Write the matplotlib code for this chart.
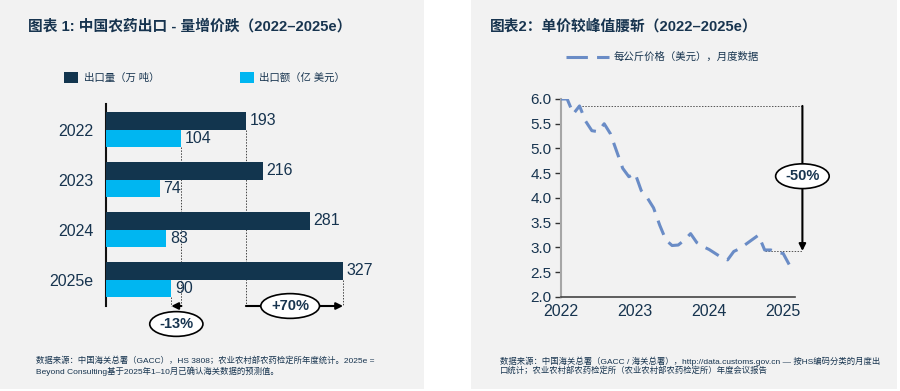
import matplotlib
matplotlib.use('Agg')
import matplotlib.pyplot as plt
from matplotlib.patches import Rectangle
from matplotlib.lines import Line2D
import numpy as np

plt.rcParams['font.family'] = ['Liberation Sans', 'Noto Sans CJK SC', 'DejaVu Sans']

# --- data ---
years = ['2022', '2023', '2024', '2025e']
volume = [193, 216, 281, 327]      # 万吨
value = [104, 74, 83, 90]          # 亿美元

price_years = [2022, 2023, 2024, 2025]
# monthly unit price (USD/kg), Jan 2022 - Feb 2025
price = [6.00, 6.00, 5.70, 5.86, 5.55, 5.36, 5.34, 5.50, 5.30, 4.95, 4.60, 4.43,
         4.50, 4.15, 4.00, 3.80, 3.45, 3.15, 3.04, 3.05, 3.15, 3.28, 3.10, 3.02,
         2.96, 2.88, 2.80, 2.75, 2.92, 2.98, 3.07, 3.16, 3.25, 2.95, 2.95, 2.90,
         2.88, 2.65]
price_x = [2022 + i / 12 for i in range(len(price))]

NAVY = '#17344f'
DARK = '#12354e'
LIGHT = '#00b6f1'
LINEC = '#6a8cc6'
BG = '#f2f2f2'
W, H = 900, 391

fig = plt.figure(figsize=(9, 3.91), dpi=100)
fig.patch.set_facecolor('white')

def fx(px):
    return px / W

def fy(py):
    return 1 - py / H

# panels
fig.patches.append(Rectangle((0, fy(389)), fx(424), 389 / H, transform=fig.transFigure,
                             fc=BG, ec='none', zorder=-10))
fig.patches.append(Rectangle((fx(471), fy(389)), fx(426), 389 / H, transform=fig.transFigure,
                             fc=BG, ec='none', zorder=-10))

# ---------------- left: bar chart ----------------
ax1 = fig.add_axes([fx(106), fy(306), fx(290), 202 / H])
ax1.set_facecolor('none')
pos = np.arange(len(years))
bh = 0.35
ax1.barh(pos - bh / 2, volume, height=bh, color=DARK, zorder=3)
ax1.barh(pos + bh / 2, value, height=bh, color=LIGHT, zorder=3)
for p, v in zip(pos, volume):
    ax1.text(v + 5, p - bh / 2, str(v), va='center', ha='left', fontsize=11.5, color=NAVY)
for p, v in zip(pos, value):
    ax1.text(v + 5, p + bh / 2, str(v), va='center', ha='left', fontsize=11.5, color=NAVY)
ax1.set_xlim(0, 400)
ax1.set_ylim(3.53, -0.51)
ax1.set_yticks(pos)
ax1.set_yticklabels(years, fontsize=11.5, color=NAVY)
ax1.tick_params(axis='y', length=0, pad=9)
ax1.set_xticks([])
for s in ['top', 'right', 'bottom']:
    ax1.spines[s].set_visible(False)
ax1.spines['left'].set_color('#111111')
ax1.spines['left'].set_linewidth(1.5)

ya = 3.53
dot = dict(color='#444444', lw=0.7, ls=(0, (1.5, 1.5)), clip_on=False, zorder=2)
ax1.plot([volume[0], volume[0]], [0, ya], **dot)
ax1.plot([value[0], value[0]], [bh, ya], **dot)
ax1.plot([volume[-1], volume[-1]], [3, ya], **dot)
ax1.plot([value[-1], value[-1]], [3 + bh, ya], **dot)
ax1.annotate('', xy=(volume[-1], ya), xytext=(volume[0], ya), annotation_clip=False,
             arrowprops=dict(arrowstyle='-|>', color='black', lw=1.5, shrinkA=0, shrinkB=0))
ax1.annotate('', xy=(value[-1], ya), xytext=(value[0], ya), annotation_clip=False,
             arrowprops=dict(arrowstyle='-|>', color='black', lw=1.5, shrinkA=0, shrinkB=0))
ell = dict(boxstyle='ellipse,pad=0.12', fc='white', ec='black', lw=1.2)
ax1.text(254, ya, '+70%', ha='center', va='center', fontsize=10.5, fontweight='bold',
         color=NAVY, bbox=ell, clip_on=False, zorder=5)
ax1.text(97, ya + 0.36, '-13%', ha='center', va='center', fontsize=10.5, fontweight='bold',
         color=NAVY, bbox=ell, clip_on=False, zorder=5)

# left title / legend / source
fig.text(fx(28), fy(26), '图表 1: 中国农药出口 - 量增价跌（2022–2025e）', fontsize=10.6,
         fontweight='bold', color=NAVY, va='center')
fig.patches.append(Rectangle((fx(64), fy(83)), fx(14), 11 / H, transform=fig.transFigure,
                             fc=DARK, ec='none'))
fig.patches.append(Rectangle((fx(240), fy(83)), fx(14), 11 / H, transform=fig.transFigure,
                             fc=LIGHT, ec='none'))
fig.text(fx(84), fy(78), '出口量（万 吨）', fontsize=7.5, color=NAVY, va='center')
fig.text(fx(259), fy(78), '出口额（亿 美元）', fontsize=7.5, color=NAVY, va='center')
fig.text(fx(36), fy(361), '数据来源：中国海关总署（GACC），HS 3808；农业农村部农药检定所年度统计。2025e =',
         fontsize=6, color=NAVY, va='center')
fig.text(fx(36), fy(371), 'Beyond Consulting基于2025年1–10月已确认海关数据的预测值。',
         fontsize=6, color=NAVY, va='center')

# ---------------- right: line chart ----------------
ax2 = fig.add_axes([fx(561), fy(297), fx(234), 198 / H])
ax2.set_facecolor('none')
ax2.plot(price_x, price, color=LINEC, lw=2.2, dashes=(5, 3), zorder=3)
ax2.set_xlim(2022, 2025.16)
ax2.set_ylim(2.0, 6.0)
ax2.set_yticks(np.arange(2.0, 6.01, 0.5))
ax2.set_yticklabels([f'{v:.1f}' for v in np.arange(2.0, 6.01, 0.5)], fontsize=11, color=NAVY)
ax2.set_xticks(price_years)
ax2.set_xticklabels([str(y) for y in price_years], fontsize=11.5, color=NAVY)
ax2.tick_params(axis='y', length=4, width=1, color='#333333', pad=3)
ax2.tick_params(axis='x', length=0, pad=5)
for s in ['top', 'right']:
    ax2.spines[s].set_visible(False)
ax2.spines['left'].set_color('#a6a6a6')
ax2.spines['left'].set_linewidth(1.5)
ax2.spines['bottom'].set_color('#444444')
ax2.spines['bottom'].set_linewidth(1.2)

xa = 2025.26
peak, low = 5.86, 2.93
dot2 = dict(color='#555555', lw=0.7, ls=(0, (1.5, 1.5)), clip_on=False, zorder=2)
ax2.plot([2022.24, xa], [peak, peak], **dot2)
ax2.plot([2024.76, xa], [low, low], **dot2)
ax2.annotate('', xy=(xa, low), xytext=(xa, peak), annotation_clip=False,
             arrowprops=dict(arrowstyle='-|>', color='black', lw=1.5, shrinkA=0, shrinkB=0))
ax2.text(xa, 4.44, '-50%', ha='center', va='center', fontsize=10.5, fontweight='bold',
         color=NAVY, bbox=ell, clip_on=False, zorder=5)

fig.text(fx(490), fy(26), '图表2：单价较峰值腰斩（2022–2025e）', fontsize=10.6,
         fontweight='bold', color=NAVY, va='center')
fig.lines.append(Line2D([fx(566), fx(609)], [fy(57), fy(57)], transform=fig.transFigure,
                        color=LINEC, lw=2.2, dashes=(7, 3)))
fig.text(fx(614), fy(57), '每公斤价格（美元），月度数据', fontsize=7.5, color=NAVY, va='center')
fig.text(fx(500), fy(361), '数据来源：中国海关总署（GACC / 海关总署），http://data.customs.gov.cn — 按HS编码分类的月度出',
         fontsize=6, color=NAVY, va='center')
fig.text(fx(500), fy(371), '口统计；农业农村部农药检定所（农业农村部农药检定所）年度会议报告',
         fontsize=6, color=NAVY, va='center')

fig.savefig('out.png', dpi=100, facecolor='white')
